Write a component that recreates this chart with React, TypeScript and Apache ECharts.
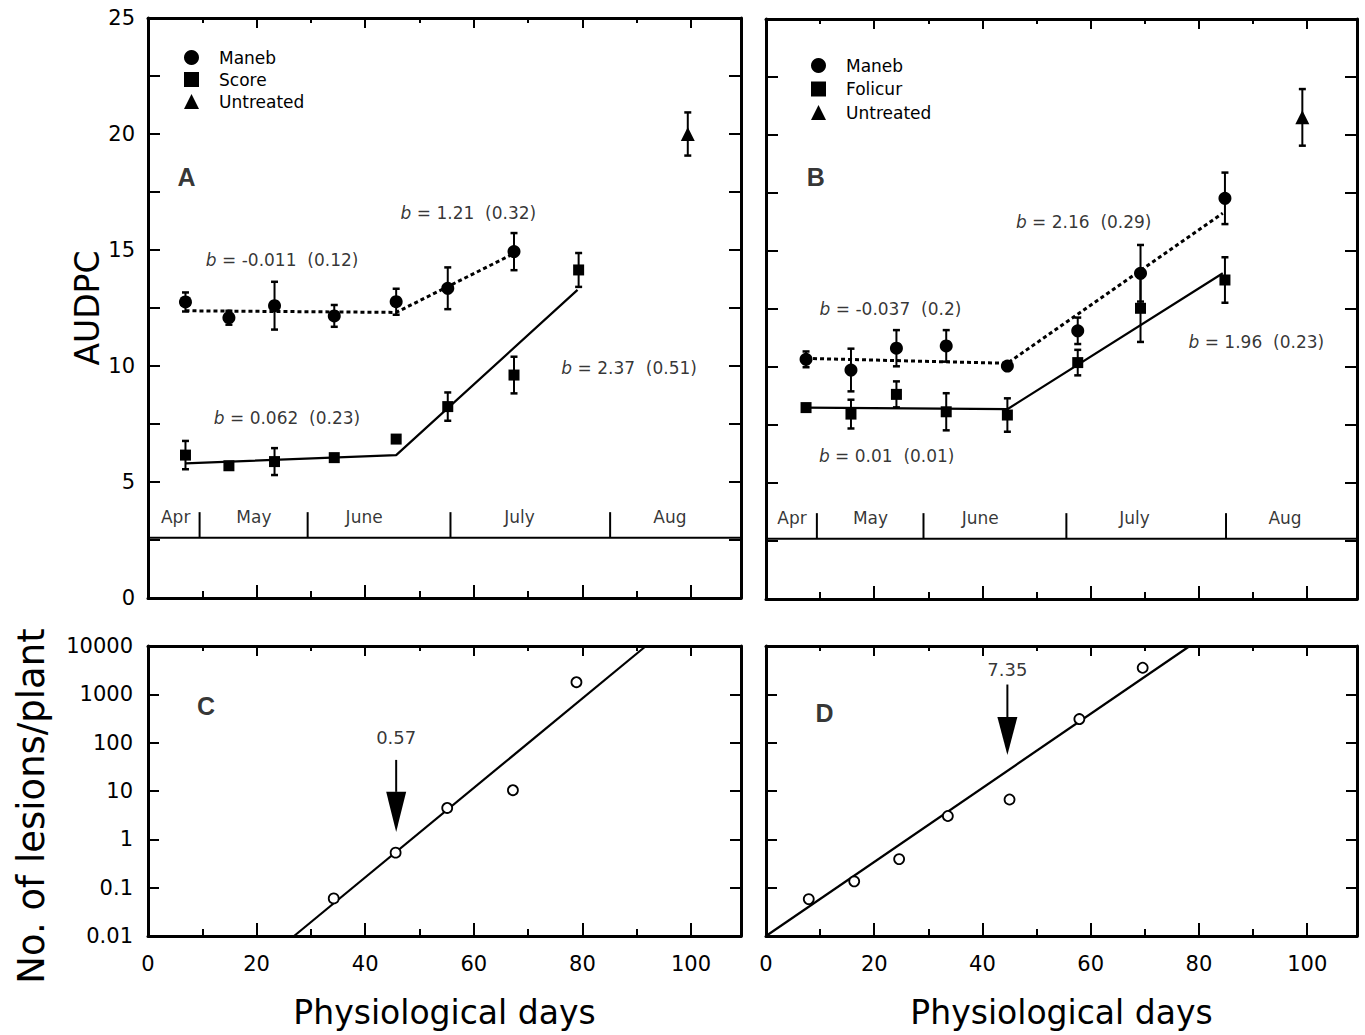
import React, { useEffect, useRef } from "react";
import * as echarts from "echarts";

// ---------- data ----------
const X_MAX = 109.2;
const FONT = "DejaVu Sans";

// Panel A (Maneb / Score / Untreated)
const aManebDays = [6.9, 14.9, 23.3, 34.3, 45.7, 55.2, 67.4];
const aManebAudpc = [12.76, 12.08, 12.6, 12.16, 12.77, 13.35, 14.93];
const aManebSe = [0.41, 0.3, 1.03, 0.47, 0.56, 0.9, 0.8];
const aScoreDays = [6.9, 14.9, 23.3, 34.3, 45.7, 55.2, 67.4, 79.3];
const aScoreAudpc = [6.16, 5.7, 5.88, 6.05, 6.85, 8.25, 9.61, 14.14];
const aScoreSe = [0.61, 0.15, 0.58, 0.15, 0.15, 0.61, 0.79, 0.73];
const aUntreatedDays = [99.4];
const aUntreatedAudpc = [20.0];
const aUntreatedSe = [0.93];
const aManebFitDays = [6.9, 45.7, 66.8];
const aManebFit = [12.38, 12.31, 14.78];
const aScoreFitDays = [6.9, 45.7, 79.1];
const aScoreFit = [5.8, 6.16, 13.28];
const aSlopes = ["-0.011", "1.21", "0.062", "2.37"];
const aSlopeSe = ["0.12", "0.32", "0.23", "0.51"];

// Panel B (Maneb / Folicur / Untreated)
const bDays = [7.4, 15.7, 24.1, 33.3, 44.6, 57.6, 69.2, 84.8];
const bManebAudpc = [10.33, 9.87, 10.81, 10.91, 10.04, 11.56, 14.04, 17.27];
const bManebSe = [0.34, 0.92, 0.78, 0.68, 0.15, 0.57, 1.22, 1.11];
const bFolicurAudpc = [8.25, 7.97, 8.82, 8.07, 7.93, 10.19, 12.53, 13.75];
const bFolicurSe = [0.15, 0.62, 0.56, 0.8, 0.72, 0.55, 1.45, 0.98];
const bUntreatedDays = [99.1];
const bUntreatedAudpc = [20.76];
const bUntreatedSe = [1.22];
const bManebFitDays = [7.4, 44.6, 84.4];
const bManebFit = [10.37, 10.16, 16.63];
const bFolicurFitDays = [7.4, 44.6, 84.4];
const bFolicurFit = [8.25, 8.18, 14.04];
const bSlopes = ["2.16", "-0.037", "0.01", "1.96"];
const bSlopeSe = ["0.29", "0.2", "0.01", "0.23"];

// Panel C / D (lesions per plant, log scale)
const cDays = [34.2, 45.6, 55.1, 67.2, 78.9];
const cLesions = [0.06, 0.53, 4.46, 10.4, 1782];
const cFitDays = [26.9, 91.7];
const cFit = [0.01, 10000];
const cArrowLabel = "0.57";
const dDays = [7.9, 16.3, 24.6, 33.6, 45.0, 57.9, 69.6];
const dLesions = [0.058, 0.135, 0.39, 3.04, 6.67, 308, 3550];
const dFitDays = [0, 78.3];
const dFit = [0.01, 10000];
const dArrowLabel = "7.35";

// Month band
const monthNames = ["Apr", "May", "June", "July", "Aug"];
const aMonthCentres = [5.1, 19.5, 39.8, 68.4, 96.1];
const aMonthBounds = [9.5, 29.4, 55.7, 85.1];
const bMonthCentres = [4.8, 19.3, 39.6, 68.1, 95.9];
const bMonthBounds = [9.4, 29.1, 55.5, 85.0];

// y tick labels
const audpcTicks = [0, 5, 10, 15, 20, 25];
const lesionTicks = ["0.01", "0.1", "1", "10", "100", "1000", "10000"];

// ---------- annotation anchors (data coordinates) ----------
const BAND_LEVEL = 2.6;
const BAND_TOP = 3.7;
const MONTH_LABEL_LEVEL = 3.5;
const aSlopeAnchors = [[24.7, 14.57], [59.0, 16.6], [25.6, 7.76], [88.6, 9.91]];
const bSlopeAnchors = [[58.7, 16.25], [23.0, 12.5], [22.3, 6.16], [90.6, 11.09]];
const cArrow = [45.7, 44, 9.6, 1.41];
const dArrow = [44.6, 1596, 339, 55.7];
const cArrowLabelAt = [45.7, 126];
const dArrowLabelAt = [44.6, 3273];

const BLACK = "#000";

function errRender(params: any, api: any) {
  const x = api.value(0);
  const y = api.value(1);
  const e = api.value(2);
  const hi = api.coord([x, y + e]);
  const lo = api.coord([x, y - e]);
  const w = 3.5;
  const st = { stroke: BLACK, lineWidth: 2 };
  return {
    type: "group",
    children: [
      { type: "line", shape: { x1: hi[0], y1: hi[1], x2: lo[0], y2: lo[1] }, style: st },
      { type: "line", shape: { x1: hi[0] - w, y1: hi[1], x2: hi[0] + w, y2: hi[1] }, style: { stroke: BLACK, lineWidth: 2.5 } },
      { type: "line", shape: { x1: lo[0] - w, y1: lo[1], x2: lo[0] + w, y2: lo[1] }, style: { stroke: BLACK, lineWidth: 2.5 } },
    ],
  };
}

function segRender(params: any, api: any) {
  const x = api.value(0);
  const a = api.coord([x, api.value(1)]);
  const b = api.coord([x, api.value(2)]);
  return { type: "line", shape: { x1: a[0], y1: a[1], x2: b[0], y2: b[1] }, style: { stroke: BLACK, lineWidth: 2 } };
}

function arrowRender(params: any, api: any) {
  const x = api.value(0);
  const top = api.coord([x, api.value(1)]);
  const base = api.coord([x, api.value(2)]);
  const tip = api.coord([x, api.value(3)]);
  return {
    type: "group",
    children: [
      { type: "line", shape: { x1: top[0], y1: top[1], x2: base[0], y2: base[1] }, style: { stroke: BLACK, lineWidth: 2 } },
      {
        type: "polygon",
        shape: { points: [[base[0] - 10, base[1]], [base[0] + 10, base[1]], [tip[0], tip[1]]] },
        style: { fill: BLACK },
      },
    ],
  };
}

const zip2 = (xs: number[], ys: number[]) => xs.map((x, i) => [x, ys[i]]);
const zip3 = (xs: number[], ys: number[], es: number[]) => xs.map((x, i) => [x, ys[i], es[i]]);

function axisRefs(g: number) {
  return { xAxisIndex: 4 * g, yAxisIndex: 2 * g };
}

function scatter(name: string, g: number, xs: number[], ys: number[], symbol: string, size: number, hollow = false) {
  return {
    type: "scatter",
    name,
    ...axisRefs(g),
    data: zip2(xs, ys),
    symbol,
    symbolSize: size,
    itemStyle: hollow
      ? { color: "#fff", borderColor: BLACK, borderWidth: 1.8, opacity: 1 }
      : { color: BLACK, opacity: 1 },
    z: 6,
    emphasis: { disabled: true },
  };
}

function errorBars(g: number, xs: number[], ys: number[], es: number[]) {
  return {
    type: "custom",
    ...axisRefs(g),
    data: zip3(xs, ys, es),
    encode: { x: 0, y: 1 },
    renderItem: errRender,
    z: 5,
    silent: true,
  };
}

function fitLine(g: number, xs: number[], ys: number[], dashed: boolean) {
  return {
    type: "line",
    ...axisRefs(g),
    data: zip2(xs, ys),
    symbol: "none",
    lineStyle: { color: BLACK, width: dashed ? 3 : 2.2, type: dashed ? [4, 3] : "solid" },
    z: 4,
    silent: true,
  };
}

function textSeries(g: number, items: { value: number[]; name: string }[], label: any) {
  return {
    type: "scatter",
    ...axisRefs(g),
    data: items,
    symbolSize: 1,
    itemStyle: { color: "transparent" },
    label: { show: true, position: "inside", formatter: "{b}", color: BLACK, fontFamily: FONT, ...label },
    z: 7,
    silent: true,
    emphasis: { disabled: true },
  };
}

function slopeSeries(g: number, anchors: number[][], slopes: string[], ses: string[]) {
  return {
    type: "scatter",
    ...axisRefs(g),
    data: anchors.map((a, i) => ({ value: a, name: `${slopes[i]}  (${ses[i]})` })),
    symbolSize: 1,
    itemStyle: { color: "transparent" },
    label: {
      show: true,
      position: "inside",
      formatter: (p: any) => `{i|b} = ${p.name}`,
      color: BLACK,
      fontFamily: FONT,
      fontSize: 17,
      rich: { i: { fontStyle: "italic", fontFamily: FONT, fontSize: 17, color: BLACK } },
    },
    z: 7,
    silent: true,
    emphasis: { disabled: true },
  };
}

function monthSeries(g: number, centres: number[], bounds: number[]) {
  return [
    {
      type: "line",
      ...axisRefs(g),
      data: [[0, BAND_LEVEL], [X_MAX, BAND_LEVEL]],
      symbol: "none",
      lineStyle: { color: BLACK, width: 2 },
      silent: true,
    },
    {
      type: "custom",
      ...axisRefs(g),
      data: bounds.map((b) => [b, BAND_LEVEL, BAND_TOP]),
      encode: { x: 0, y: [1, 2] },
      renderItem: segRender,
      silent: true,
    },
    textSeries(
      g,
      centres.map((c, i) => ({ value: [c, MONTH_LABEL_LEVEL], name: monthNames[i] })),
      { fontSize: 17 }
    ),
  ];
}

const axisLineStyle = { color: BLACK, width: 3 };
const tickStyle = { color: BLACK, width: 2 };

function xAxes(g: number, showLabels: boolean) {
  const base: any = {
    gridIndex: g,
    type: "value",
    min: 0,
    max: X_MAX,
    splitLine: { show: false },
    axisLine: { show: false, onZero: false },
  };
  const major: any = {
    ...base,
    position: "bottom",
    interval: 20,
    axisLine: { show: true, onZero: false, lineStyle: axisLineStyle },
    axisTick: { inside: true, length: 13, lineStyle: tickStyle },
    axisLabel: {
      show: showLabels,
      margin: 17,
      fontFamily: FONT,
      fontSize: 21,
      color: BLACK,
      formatter: (v: number) => (Math.abs(v % 20) < 1e-6 && v <= 100 ? String(v) : ""),
    },
  };
  if (showLabels) {
    major.name = "Physiological days";
    major.nameLocation = "middle";
    major.nameGap = 60;
    major.nameTextStyle = { fontFamily: FONT, fontSize: 33, color: BLACK };
  }
  return [
    major,
    {
      ...base,
      position: "bottom",
      interval: 10,
      axisTick: { inside: true, length: 7, lineStyle: tickStyle },
      axisLabel: { show: false },
    },
    {
      ...base,
      position: "top",
      interval: 20,
      axisLine: { show: true, onZero: false, lineStyle: axisLineStyle },
      axisTick: { inside: true, length: 10, lineStyle: tickStyle },
      axisLabel: { show: false },
    },
    {
      ...base,
      position: "top",
      interval: 10,
      axisTick: { inside: true, length: 5, lineStyle: tickStyle },
      axisLabel: { show: false },
    },
  ];
}

function audpcAxes(g: number, showLabels: boolean) {
  const base: any = {
    gridIndex: g,
    type: "value",
    min: 0,
    max: 25,
    interval: 2.5,
    splitLine: { show: false },
    axisLine: { show: true, onZero: false, lineStyle: axisLineStyle },
    axisTick: { inside: true, length: 12, lineStyle: tickStyle },
  };
  const left: any = {
    ...base,
    position: "left",
    axisLabel: {
      show: showLabels,
      margin: 13,
      fontFamily: FONT,
      fontSize: 21,
      color: BLACK,
      formatter: (v: number) => (audpcTicks.indexOf(v) >= 0 ? String(v) : ""),
    },
  };
  if (showLabels) {
    left.name = "AUDPC";
    left.nameLocation = "middle";
    left.nameGap = 38;
    left.nameTextStyle = { fontFamily: FONT, fontSize: 33, color: BLACK };
  }
  return [left, { ...base, position: "right", axisLabel: { show: false } }];
}

function lesionAxes(g: number, showLabels: boolean) {
  const base: any = {
    gridIndex: g,
    type: "log",
    logBase: 10,
    min: 0.01,
    max: 10000,
    splitNumber: 6,
    splitLine: { show: false },
    minorTick: { show: false },
    axisLine: { show: true, onZero: false, lineStyle: axisLineStyle },
    axisTick: { inside: true, length: 11, lineStyle: tickStyle },
  };
  return [
    {
      ...base,
      position: "left",
      axisLabel: {
        show: showLabels,
        margin: 15,
        fontFamily: FONT,
        fontSize: 21,
        color: BLACK,
        formatter: (v: number) => {
          const s = String(Number(v.toPrecision(3)));
          return lesionTicks.indexOf(s) >= 0 ? s : "";
        },
      },
    },
    { ...base, position: "right", axisLabel: { show: false } },
  ];
}

function legendFor(names: string[], left: number, top: number, gap: number) {
  const icons = ["circle", "rect", "triangle"];
  return {
    orient: "vertical",
    left,
    top,
    itemWidth: 15,
    itemHeight: 15,
    itemGap: gap,
    selectedMode: false,
    data: names.map((n, i) => ({ name: n, icon: icons[i], itemStyle: { color: BLACK } })),
    textStyle: { fontFamily: FONT, fontSize: 17, color: BLACK, padding: [0, 0, 0, 15] },
  };
}

function buildOption() {
  return {
    animation: false,
    backgroundColor: "#fff",
    grid: [
      { left: 148, top: 18, width: 593, height: 580 },
      { left: 766, top: 19, width: 591, height: 580 },
      { left: 148, top: 646, width: 593, height: 290 },
      { left: 766, top: 646, width: 591, height: 290 },
    ],
    xAxis: [...xAxes(0, false), ...xAxes(1, false), ...xAxes(2, true), ...xAxes(3, true)],
    yAxis: [...audpcAxes(0, true), ...audpcAxes(1, false), ...lesionAxes(2, true), ...lesionAxes(3, false)],
    legend: [
      legendFor(["Maneb", "Score", "Untreated"], 179, 44, 5),
      legendFor(["Maneb", "Folicur", "Untreated"], 806, 52, 6.5),
    ],
    graphic: [
      {
        type: "text",
        x: 31,
        y: 806,
        rotation: Math.PI / 2,
        style: {
          text: "No. of lesions/plant",
          fontFamily: FONT,
          fontSize: 37,
          fill: BLACK,
          align: "center",
          verticalAlign: "middle",
        },
      },
    ],
    series: [
      // Panel A
      ...monthSeries(0, aMonthCentres, aMonthBounds),
      fitLine(0, aManebFitDays, aManebFit, true),
      fitLine(0, aScoreFitDays, aScoreFit, false),
      errorBars(0, aManebDays, aManebAudpc, aManebSe),
      errorBars(0, aScoreDays, aScoreAudpc, aScoreSe),
      errorBars(0, aUntreatedDays, aUntreatedAudpc, aUntreatedSe),
      scatter("Maneb", 0, aManebDays, aManebAudpc, "circle", 13),
      scatter("Score", 0, aScoreDays, aScoreAudpc, "rect", 11),
      scatter("Untreated", 0, aUntreatedDays, aUntreatedAudpc, "triangle", 14),
      slopeSeries(0, aSlopeAnchors, aSlopes, aSlopeSe),
      textSeries(0, [{ value: [7.1, 18.15], name: "A" }], { fontSize: 25, fontWeight: "bold", fontFamily: "Liberation Sans" }),
      // Panel B
      ...monthSeries(1, bMonthCentres, bMonthBounds),
      fitLine(1, bManebFitDays, bManebFit, true),
      fitLine(1, bFolicurFitDays, bFolicurFit, false),
      errorBars(1, bDays, bManebAudpc, bManebSe),
      errorBars(1, bDays, bFolicurAudpc, bFolicurSe),
      errorBars(1, bUntreatedDays, bUntreatedAudpc, bUntreatedSe),
      scatter("Maneb", 1, bDays, bManebAudpc, "circle", 13),
      scatter("Folicur", 1, bDays, bFolicurAudpc, "rect", 11),
      scatter("Untreated", 1, bUntreatedDays, bUntreatedAudpc, "triangle", 14),
      slopeSeries(1, bSlopeAnchors, bSlopes, bSlopeSe),
      textSeries(1, [{ value: [9.2, 18.2], name: "B" }], { fontSize: 25, fontWeight: "bold", fontFamily: "Liberation Sans" }),
      // Panel C
      fitLine(2, cFitDays, cFit, false),
      scatter("C lesions", 2, cDays, cLesions, "circle", 10, true),
      {
        type: "custom",
        ...axisRefs(2),
        data: [cArrow],
        encode: { x: 0, y: [1, 2, 3] },
        renderItem: arrowRender,
        silent: true,
      },
      textSeries(2, [{ value: cArrowLabelAt, name: cArrowLabel }], { fontSize: 18 }),
      textSeries(2, [{ value: [10.7, 564], name: "C" }], { fontSize: 25, fontWeight: "bold", fontFamily: "Liberation Sans" }),
      // Panel D
      fitLine(3, dFitDays, dFit, false),
      scatter("D lesions", 3, dDays, dLesions, "circle", 10, true),
      {
        type: "custom",
        ...axisRefs(3),
        data: [dArrow],
        encode: { x: 0, y: [1, 2, 3] },
        renderItem: arrowRender,
        silent: true,
      },
      textSeries(3, [{ value: dArrowLabelAt, name: dArrowLabel }], { fontSize: 18 }),
      textSeries(3, [{ value: [10.8, 417], name: "D" }], { fontSize: 25, fontWeight: "bold", fontFamily: "Liberation Sans" }),
    ],
  };
}

export default function App() {
  const ref = useRef<HTMLDivElement>(null);
  useEffect(() => {
    if (!ref.current) return;
    const chart = echarts.init(ref.current, undefined, { renderer: "svg" });
    chart.setOption(buildOption() as any);
    return () => chart.dispose();
  }, []);
  return (
    <div
      ref={ref}
      style={{ position: "fixed", left: 0, top: 0, width: 1365, height: 1035, background: "#fff" }}
    />
  );
}
